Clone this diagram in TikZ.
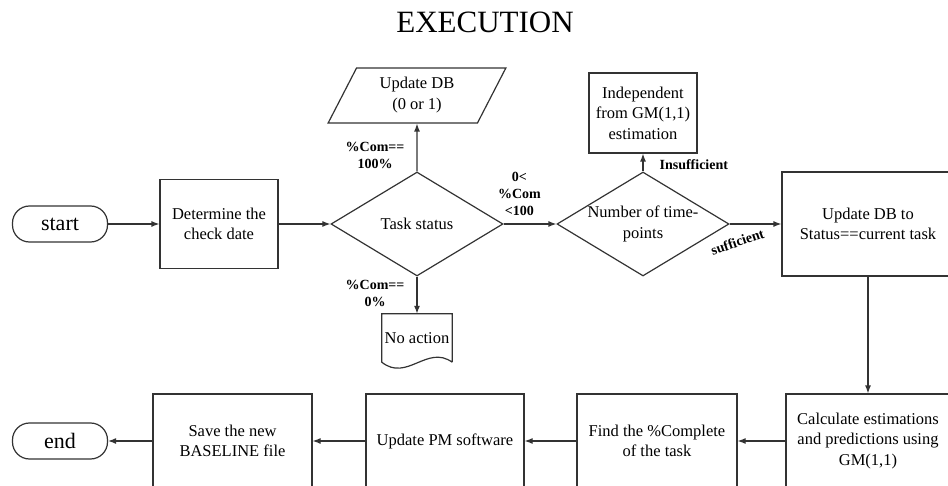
\documentclass[tikz,border=0pt]{standalone}
\usepackage{fontspec}
\setmainfont{Liberation Serif}
\usetikzlibrary{positioning,shapes.geometric,arrows.meta}
\tikzset{
  box/.style={draw=black!80, line width=1.2pt, rectangle, inner sep=0pt, align=center,
    font=\fontsize{16.5}{20.5}\selectfont},
  term/.style={draw=black!80, line width=1.2pt, rounded corners=17pt, minimum width=95pt,
    minimum height=36pt, inner sep=0pt, font=\fontsize{22}{24}\selectfont},
  decide/.style={draw=black!80, line width=1.2pt, diamond, shape aspect=1.654, minimum width=172pt,
    minimum height=104pt, inner xsep=-12pt, inner ysep=0pt, align=center,
    font=\fontsize{16.5}{20.5}\selectfont},
  datab/.style={draw=black!80, line width=1.2pt, trapezium, trapezium left angle=64,
    trapezium right angle=116, trapezium stretches=true, minimum width=178pt, minimum height=55pt,
    inner sep=0pt, align=center, font=\fontsize{16.5}{21}\selectfont},
  lbl/.style={font=\bfseries\fontsize{14}{17}\selectfont, align=center, inner sep=0pt},
  arr/.style={draw=black!80, line width=1.2pt, -{Latex[length=8pt,width=6pt]}},
}
\begin{document}
\begin{tikzpicture}[x=1pt,y=-1pt]
\useasboundingbox (0,0) rectangle (948,486);
\clip (0,0) rectangle (948,486);

\node[font=\fontsize{31}{33}\selectfont] (title) at (485,22) {EXECUTION};

% top row
\node[term] (start) at (60,224) {start};
\node[box, minimum width=118pt, minimum height=89pt] (det) at (219,224) {Determine the\\check date};
\node[decide] (ts) at (417,224) {Task status};
\node[datab] (db1) at (417,95.5) {Update DB\\(0 or 1)};
\node[minimum width=70pt, minimum height=48pt, inner sep=0pt, font=\fontsize{16.5}{20}\selectfont] (na) at (417,338) {No action};
\draw[draw=black!80, line width=1.2pt] (na.south east) -- (na.north east) -- (na.north west) -- (na.south west)
  .. controls +(25,20) and +(-25,-18) .. (na.south east);
\node[decide] (num) at (643,224) {Number of time-\\points};
\node[box, minimum width=108pt, minimum height=80pt] (ind) at (643,113) {Independent\\from GM(1,1)\\estimation};
\node[box, minimum width=172pt, minimum height=104pt] (db2) at (868,224) {Update DB to\\Status==current task};

% bottom row
\node[box, minimum width=164pt, minimum height=94pt] (calc) at (868,441) {Calculate estimations\\and predictions using\\GM(1,1)};
\node[box, minimum width=160pt, minimum height=94pt] (find) at (657,441) {Find the \%Complete\\of the task};
\node[box, minimum width=158pt, minimum height=94pt] (pm) at (445,441) {Update PM software};
\node[box, minimum width=159pt, minimum height=94pt] (save) at (232.5,441) {Save the new\\BASELINE file};
\node[term] (end) at (60,441) {end};

\draw[arr] (start) -- (det);
\draw[arr] (det) -- (ts);
\draw[arr] (ts) -- node[lbl, pos=0.33, left=12pt] {\%Com==\\100\%} (db1);
\draw[arr] (ts) -- node[lbl, pos=0.45, left=12pt] {\%Com==\\0\%} (na);
\draw[arr] (ts) -- node[lbl, pos=0.3, above=8pt] {0<\\\%Com\\<100} (num);
\draw[arr] (num) -- node[lbl, pos=0.37, anchor=west, xshift=16pt] {Insufficient} (ind);
\draw[arr] (num) -- node[lbl, pos=0.15, yshift=-18pt, rotate=19] {sufficient} (db2);
\draw[arr] (db2) -- (calc);
\draw[arr] (calc) -- (find);
\draw[arr] (find) -- (pm);
\draw[arr] (pm) -- (save);
\draw[arr] (save) -- (end);
\end{tikzpicture}
\end{document}
